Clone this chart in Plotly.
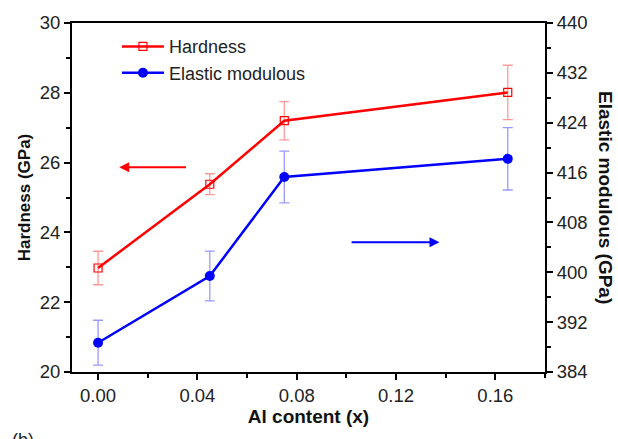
import plotly.graph_objects as go

al_content = [0.0, 0.045, 0.075, 0.165]
hardness = [22.98, 25.38, 27.2, 28.01]
hardness_err = [0.48, 0.30, 0.55, 0.78]
modulus = [388.7, 399.4, 415.3, 418.2]
modulus_err = [3.6, 4.0, 4.15, 5.0]

x_ticks = [0.0, 0.04, 0.08, 0.12, 0.16]
x_tick_labels = ["0.00", "0.04", "0.08", "0.12", "0.16"]
left_ticks = [20, 22, 24, 26, 28, 30]
right_ticks = [384, 392, 400, 408, 416, 424, 432, 440]

FONT = "Liberation Sans, Arial, sans-serif"

fig = go.Figure()
fig.add_trace(go.Scatter(
    x=al_content, y=hardness, name="Hardness", mode="lines+markers",
    line=dict(color="#ff0000", width=2.5),
    marker=dict(symbol="square-open", size=8, color="#ff0000", line=dict(width=1.2)),
    error_y=dict(type="data", array=hardness_err, color="rgba(255,70,70,0.55)", thickness=1.3, width=5),
))
fig.add_trace(go.Scatter(
    x=al_content, y=modulus, name="Elastic modulous", mode="lines+markers", yaxis="y2",
    line=dict(color="#0000ff", width=2.5),
    marker=dict(symbol="circle", size=10, color="#0000ff"),
    error_y=dict(type="data", array=modulus_err, color="rgba(70,70,255,0.55)", thickness=1.3, width=5),
))

axis_common = dict(showline=True, linecolor="black", linewidth=2, ticks="outside",
                   tickcolor="black", tickwidth=1.5, ticklen=6, showgrid=False, zeroline=False,
                   tickfont=dict(family=FONT, size=18.5, color="#222"))

fig.update_layout(
    width=618, height=439,
    margin=dict(l=72, r=73, t=21, b=67),
    paper_bgcolor="white", plot_bgcolor="white",
    font=dict(family=FONT),
    showlegend=True,
    legend=dict(x=0.095, y=0.985, xanchor="left", yanchor="top", bgcolor="rgba(0,0,0,0)",
                font=dict(family=FONT, size=18, color="#222"), tracegroupgap=0, itemwidth=42),
    xaxis=dict(range=[-0.0105, 0.18], tickvals=x_ticks, ticktext=x_tick_labels, mirror=True,
               minor=dict(dtick=0.02, ticks="outside", ticklen=4, tickcolor="black", tickwidth=1.5),
               title=dict(text="<b>Al content (x)</b>", font=dict(family=FONT, size=19, color="#111"), standoff=4),
               **axis_common),
    yaxis=dict(range=[20, 30], tickvals=left_ticks,
               minor=dict(dtick=1, ticks="outside", ticklen=4, tickcolor="black", tickwidth=1.5),
               title=dict(text="<b>Hardness (GPa)</b>", font=dict(family=FONT, size=17, color="#111"), standoff=5),
               **axis_common),
    yaxis2=dict(range=[384, 440], tickvals=right_ticks, overlaying="y", side="right",
                minor=dict(dtick=4, ticks="outside", ticklen=4, tickcolor="black", tickwidth=1.5),
                **axis_common),
)

fig.add_annotation(x=1.0, xref="paper", y=0.5, yref="paper", xanchor="left", yanchor="middle",
                   xshift=48, yshift=0, text="<b>Elastic modulous (GPa)</b>", textangle=90, showarrow=False,
                   font=dict(family=FONT, size=19, color="#111"))

# arrows
fig.add_annotation(x=0.0085, y=25.87, ax=0.036, ay=25.87, xref="x", yref="y", axref="x", ayref="y",
                   text="", showarrow=True, arrowhead=2, arrowsize=1, arrowwidth=2, arrowcolor="#ff0000")
fig.add_annotation(x=0.1375, y=404.8, ax=0.1015, ay=404.8, xref="x", yref="y2", axref="x", ayref="y2",
                   text="", showarrow=True, arrowhead=2, arrowsize=1, arrowwidth=2, arrowcolor="#0000ff")

fig.add_annotation(x=0.0, xref="paper", y=0.0, yref="paper", xanchor="left", yanchor="top",
                   xshift=-62, yshift=-56, text="(b)", showarrow=False,
                   font=dict(family=FONT, size=18, color="#222"))

fig.write_html("out.html")
